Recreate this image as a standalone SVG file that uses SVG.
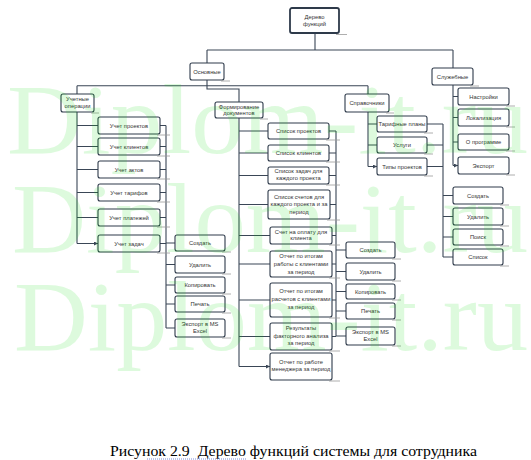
<svg xmlns="http://www.w3.org/2000/svg" width="531" height="460" viewBox="0 0 531 460">
<style>
.b{fill:#fff;stroke:#2e3a4a;stroke-width:1.1}
.r{fill:#fff;stroke:#2e3a4a;stroke-width:1.8}
.s{fill:none;stroke:#9a9a9a;stroke-width:0.8}
.t{font-family:"Liberation Sans",Arial,sans-serif;font-size:5.8px;fill:#333;text-anchor:middle}
.c{fill:none;stroke:#3a4656;stroke-width:1.1}
.w{font-family:"Liberation Serif","Times New Roman",serif;font-size:100px;fill:#00e000;opacity:0.13}
</style>
<defs>
<marker id="a" viewBox="0 0 6 6" refX="6" refY="3" markerWidth="4" markerHeight="4" markerUnits="userSpaceOnUse" orient="auto"><path d="M0,0L6,3L0,6z" fill="#3a4656"/></marker>
</defs>
<rect width="531" height="460" fill="#fff"/>
<g id="connectors">
<path class="c" d="M315,33V50M207,50H453M207,50V63M207,80V89H239V102M77,85.7H368M77,85.7V94M368,85.7V94M453,50V68"/>
<path class="c" d="M77,112V243.5"/>
<path class="c" marker-end="url(#a)" d="M77,125.5H98M77,146.5H98M77,169.5H98M77,192.5H98M77,217.5H98M77,243.5H98"/>
<path class="c" d="M160,125.5H166M160,146.5H166M160,169.5H166M160,192.5H166M160,217.5H166M160,243.5H166M166,125.5V328M166,243H175M166,264.5H175M166,285H175M166,304H175M166,328H175"/>
<path class="c" d="M239,118V366.5"/>
<path class="c" marker-end="url(#a)" d="M239,131H268M239,153H268M239,175.5H268M239,204.5H268M239,235.5H270M239,264H270M239,300H270M239,336.5H270M239,366.5H270"/>
<path class="c" d="M329,131H336M329,153H336M329,175.5H336M330,204.5H336M332,235.5H336M332,264H336M332,300H336M332,336.5H336M336,131V336.5M336,250H346M336,271.5H346M336,291.5H346M336,311H346M336,336H346"/>
<path class="c" d="M368,112V166.5"/>
<path class="c" marker-end="url(#a)" d="M368,124H377M368,145H377M368,166.5H377"/>
<path class="c" d="M427,124H443M427,145H443M427,166.5H443M443,124V257M443,195.5H453M443,216.5H453M443,237H453M443,257H453"/>
<path class="c" d="M453,85V165.5"/>
<path class="c" marker-end="url(#a)" d="M453,96.5H458M453,117.5H458M453,142H458M453,165.5H458"/>
</g>
<g id="n_root"><rect class="r" x="290" y="8" width="49" height="25" rx="2"/><path class="s" d="M336,34.5H347"/><text class="t" x="314.5" y="18.7">Дерево</text><text class="t" x="314.5" y="26.3">функций</text></g>
<g id="n_osn"><rect class="b" x="190" y="63" width="34" height="17" rx="2"/><path class="s" d="M221,81H230"/><text class="t" x="207" y="73.5">Основные</text></g>
<g id="n_sluzh"><rect class="b" x="432" y="68" width="41" height="17" rx="2"/><path class="s" d="M470,86H479"/><text class="t" x="452.5" y="78.5">Служебные</text></g>
<g id="n_uchop"><rect class="b" x="61" y="94" width="33" height="18" rx="2"/><path class="s" d="M91,113H99"/><text class="t" x="77.5" y="101">Учетные</text><text class="t" x="77.5" y="107.7">операции</text></g>
<g id="n_form"><rect class="b" x="215" y="102" width="48" height="16" rx="2"/><path class="s" d="M260,119H268"/><text class="t" x="239" y="108.7">Формирование</text><text class="t" x="239" y="115.3">документов</text></g>
<g id="n_sprav"><rect class="b" x="345" y="94" width="44" height="18" rx="2"/><path class="s" d="M386,113H394"/><text class="t" x="367" y="105">Справочники</text></g>
<g id="n_l1"><rect class="b" x="98" y="117" width="62" height="17" rx="2"/><path class="s" d="M157,135H170"/><text class="t" x="129" y="127.5">Учет проектов</text></g>
<g id="n_l2"><rect class="b" x="98" y="138" width="62" height="17" rx="2"/><path class="s" d="M157,156H170"/><text class="t" x="129" y="148.5">Учет клиентов</text></g>
<g id="n_l3"><rect class="b" x="98" y="161" width="62" height="17" rx="2"/><path class="s" d="M157,179H170"/><text class="t" x="129" y="171.5">Учет актов</text></g>
<g id="n_l4"><rect class="b" x="98" y="184" width="62" height="17" rx="2"/><path class="s" d="M157,202H170"/><text class="t" x="129" y="194.5">Учет тарифов</text></g>
<g id="n_l5"><rect class="b" x="98" y="209" width="62" height="17" rx="2"/><path class="s" d="M157,227H170"/><text class="t" x="129" y="219.5">Учет платежей</text></g>
<g id="n_l6"><rect class="b" x="98" y="235" width="62" height="17" rx="2"/><path class="s" d="M157,253H170"/><text class="t" x="129" y="245.5">Учет задач</text></g>
<g id="n_la"><rect class="b" x="175" y="235" width="50" height="16" rx="2"/><path class="s" d="M222,252H231"/><text class="t" x="200" y="245">Создать</text></g>
<g id="n_lb"><rect class="b" x="175" y="256" width="50" height="17" rx="2"/><path class="s" d="M222,274H231"/><text class="t" x="200" y="266.5">Удалить</text></g>
<g id="n_lc"><rect class="b" x="175" y="277" width="50" height="16" rx="2"/><path class="s" d="M222,294H231"/><text class="t" x="200" y="287">Копировать</text></g>
<g id="n_ld"><rect class="b" x="175" y="296" width="50" height="16" rx="2"/><path class="s" d="M222,313H231"/><text class="t" x="200" y="306">Печать</text></g>
<g id="n_le"><rect class="b" x="175" y="319" width="50" height="18" rx="2"/><path class="s" d="M222,338H231"/><text class="t" x="200" y="326.3">Экспорт в MS</text><text class="t" x="200" y="333.3">Excel</text></g>
<g id="n_m1"><rect class="b" x="268" y="123" width="61" height="16" rx="2"/><path class="s" d="M326,140H340"/><text class="t" x="298.5" y="133">Список проектов</text></g>
<g id="n_m2"><rect class="b" x="268" y="145" width="61" height="16" rx="2"/><path class="s" d="M326,162H340"/><text class="t" x="298.5" y="155">Список клиентов</text></g>
<g id="n_m3"><rect class="b" x="268" y="167" width="61" height="17" rx="2"/><path class="s" d="M326,185H340"/><text class="t" x="298.5" y="173">Список  задач для</text><text class="t" x="298.5" y="180.3">каждого проекта</text></g>
<g id="n_m4"><rect class="b" x="268" y="190" width="62" height="29" rx="2"/><path class="s" d="M327,220H340"/><text class="t" x="299" y="199.3">Список счетов для</text><text class="t" x="299" y="206.3">каждого проекта и за</text><text class="t" x="299" y="213.7">период</text></g>
<g id="n_m5"><rect class="b" x="270" y="227" width="62" height="17" rx="2"/><path class="s" d="M329,245H340"/><text class="t" x="301" y="233.7">Счет на оплату для</text><text class="t" x="301" y="240.3">клиента</text></g>
<g id="n_m6"><rect class="b" x="270" y="251" width="62" height="26" rx="2"/><path class="s" d="M329,278H340"/><text class="t" x="301" y="258">Отчет по итогам</text><text class="t" x="301" y="266">работы с клиентами</text><text class="t" x="301" y="274">за период</text></g>
<g id="n_m7"><rect class="b" x="270" y="283" width="62" height="34" rx="2"/><path class="s" d="M329,318H340"/><text class="t" x="301" y="292.7">Отчет по итогам</text><text class="t" x="301" y="301">расчетов с клиентами</text><text class="t" x="301" y="308.7">за период</text></g>
<g id="n_m8"><rect class="b" x="270" y="323" width="62" height="27" rx="2"/><path class="s" d="M329,351H340"/><text class="t" x="301" y="329.7">Результаты</text><text class="t" x="301" y="338">факторного анализа</text><text class="t" x="301" y="345.3">за период</text></g>
<g id="n_m9"><rect class="b" x="270" y="353" width="62" height="27" rx="2"/><path class="s" d="M329,381H340"/><text class="t" x="301" y="363.7">Отчет по работе</text><text class="t" x="301" y="371">менеджера за период</text></g>
<g id="n_ma"><rect class="b" x="346" y="242" width="49" height="16" rx="2"/><path class="s" d="M392,259H401"/><text class="t" x="370.5" y="252">Создать</text></g>
<g id="n_mb"><rect class="b" x="346" y="263" width="49" height="17" rx="2"/><path class="s" d="M392,281H401"/><text class="t" x="370.5" y="273.5">Удалить</text></g>
<g id="n_mc"><rect class="b" x="346" y="284" width="49" height="15" rx="2"/><path class="s" d="M392,300H401"/><text class="t" x="370.5" y="293.5">Копировать</text></g>
<g id="n_md"><rect class="b" x="346" y="303" width="49" height="16" rx="2"/><path class="s" d="M392,320H401"/><text class="t" x="370.5" y="313">Печать</text></g>
<g id="n_me"><rect class="b" x="346" y="327" width="49" height="18" rx="2"/><path class="s" d="M392,346H401"/><text class="t" x="370.5" y="334.3">Экспорт в MS</text><text class="t" x="370.5" y="341.3">Excel</text></g>
<g id="n_r1"><rect class="b" x="377" y="116" width="50" height="16" rx="2"/><path class="s" d="M424,133H433"/><text class="t" x="402" y="126">Тарифные планы</text></g>
<g id="n_r2"><rect class="b" x="377" y="137" width="50" height="16" rx="2"/><path class="s" d="M424,154H433"/><text class="t" x="402" y="147">Услуги</text></g>
<g id="n_r3"><rect class="b" x="377" y="158" width="50" height="17" rx="2"/><path class="s" d="M424,176H433"/><text class="t" x="402" y="168.5">Типы проектов</text></g>
<g id="n_ra"><rect class="b" x="453" y="187" width="50" height="17" rx="2"/><path class="s" d="M500,205H509"/><text class="t" x="478" y="197.5">Создать</text></g>
<g id="n_rb"><rect class="b" x="453" y="208" width="50" height="17" rx="2"/><path class="s" d="M500,226H509"/><text class="t" x="478" y="218.5">Удалить</text></g>
<g id="n_rc"><rect class="b" x="453" y="229" width="50" height="16" rx="2"/><path class="s" d="M500,246H509"/><text class="t" x="478" y="239">Поиск</text></g>
<g id="n_rd"><rect class="b" x="453" y="249" width="50" height="16" rx="2"/><path class="s" d="M500,266H509"/><text class="t" x="478" y="259">Список</text></g>
<g id="n_s1"><rect class="b" x="458" y="88" width="51" height="17" rx="2"/><path class="s" d="M506,106H515"/><text class="t" x="483.5" y="98.5">Настройки</text></g>
<g id="n_s2"><rect class="b" x="458" y="109" width="51" height="17" rx="2"/><path class="s" d="M506,127H515"/><text class="t" x="483.5" y="119.5">Локализация</text></g>
<g id="n_s3"><rect class="b" x="458" y="134" width="51" height="16" rx="2"/><path class="s" d="M506,151H515"/><text class="t" x="483.5" y="144">О программе</text></g>
<g id="n_s4"><rect class="b" x="458" y="157" width="51" height="17" rx="2"/><path class="s" d="M506,175H515"/><text class="t" x="483.5" y="167.5">Экспорт</text></g>
<g id="watermark">
<text class="w" x="7" y="153" textLength="521" lengthAdjust="spacingAndGlyphs">Diplom-it.ru</text>
<text class="w" x="12" y="252" textLength="516" lengthAdjust="spacingAndGlyphs">Diplom-it.ru</text>
<text class="w" x="14" y="350" textLength="514" lengthAdjust="spacingAndGlyphs">Diplom-it.ru</text>
</g>
<g id="caption">
<text x="110" y="456" font-family="Liberation Serif,'Times New Roman',serif" font-size="15.5" fill="#000" textLength="367" lengthAdjust="spacingAndGlyphs">Рисунок 2.9&#160; Дерево функций системы для сотрудника</text>
<path d="M147,459H247" stroke="#6b7fd7" stroke-width="0.9" stroke-dasharray="1,1" fill="none"/>
</g>
</svg>
